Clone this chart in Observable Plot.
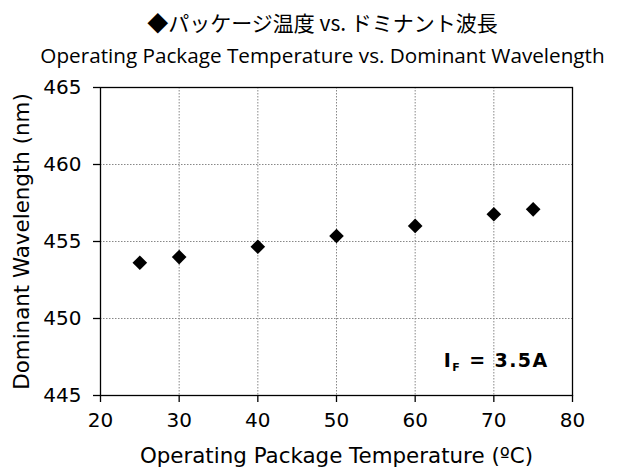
<!DOCTYPE html>
<html>
<head>
<meta charset="utf-8">
<script src="https://cdn.jsdelivr.net/npm/d3@7"></script>
<script src="https://cdn.jsdelivr.net/npm/@observablehq/plot@0.6"></script>
<style>
  html, body { margin: 0; padding: 0; background: #fff; }
  #wrap { position: relative; width: 619px; height: 470px; overflow: hidden; }
  #header { position: relative; width: 619px; height: 70px; }
  .t1 { position: absolute; left: 0; width: 645px; top: 9px; text-align: center;
        font-family: "Noto Sans CJK JP", sans-serif; font-size: 21px; line-height: 26px; color: #000; }
  .t2 { position: absolute; left: 0; width: 645px; top: 42px; text-align: center;
        font-family: "Open Sans", sans-serif; font-size: 20.7px; line-height: 26px; color: #000; }
  #chart svg text { font-family: "DejaVu Sans", sans-serif; }
  #chart svg g[aria-label="x-axis label"] text, #chart svg g[aria-label="y-axis label"] text { font-size: 21.4px; }
</style>
</head>
<body>
<div id="wrap">
  <div id="header">
    <div class="t1" id="title1"></div>
    <div class="t2" id="title2"></div>
  </div>
  <div id="chart"></div>
</div>
<script>
const titleText = "◆パッケージ温度 vs. ドミナント波長";
const subtitleText = "Operating Package Temperature vs. Dominant Wavelength";
const xLabel = "Operating Package Temperature (ºC)";
const yLabel = "Dominant Wavelength (nm)";

const temperatures = [25, 30, 40, 50, 60, 70, 75];
const wavelengths = [453.62, 453.99, 454.66, 455.36, 456.01, 456.77, 457.09];

const xTicks = [20, 30, 40, 50, 60, 70, 80];
const yTicks = [445, 450, 455, 460, 465];
const xGrid = [30, 40, 50, 60, 70];
const yGrid = [450, 455, 460];

const annotation = "IF = 3.5A";

document.getElementById("title1").textContent = titleText;
document.getElementById("title2").textContent = subtitleText;

const data = temperatures.map((t, i) => ({t, w: wavelengths[i]}));

const chart = Plot.plot({
  width: 619,
  height: 400,
  marginTop: 17,
  marginBottom: 75,
  marginLeft: 100,
  marginRight: 47,
  style: {fontFamily: "'DejaVu Sans', sans-serif", fontSize: "20px", color: "#000", background: "#fff"},
  x: {domain: [20, 80]},
  y: {domain: [445, 465]},
  marks: [
    Plot.ruleX(xGrid, {stroke: "#888", strokeWidth: 1, strokeDasharray: "1.5,1.5"}),
    Plot.ruleY(yGrid, {stroke: "#888", strokeWidth: 1, strokeDasharray: "1.5,1.5"}),
    Plot.frame({stroke: "#000", strokeWidth: 1.3}),
    Plot.axisX({ticks: xTicks, tickSize: 7, tickPadding: 10, stroke: "#000", strokeWidth: 1.3,
      label: xLabel, labelAnchor: "center", labelOffset: 67, labelArrow: "none"}),
    Plot.axisY({ticks: yTicks, tickSize: 7, tickPadding: 12, stroke: "#000", strokeWidth: 1.3,
      label: yLabel, labelAnchor: "center", labelOffset: 87, labelArrow: "none"}),
    Plot.dot(data, {x: "t", y: "w", symbol: "diamond2", r: 6.6, fill: "#000", stroke: "none"}),
    Plot.text([annotation], {frameAnchor: "bottom-right", textAnchor: "end", lineAnchor: "middle",
      dx: -24, dy: -35, fontWeight: "bold", fontSize: 19, className: "ann"})
  ]
});

document.getElementById("chart").appendChild(chart);

// axis titles slightly larger than tick labels
d3.select(chart).selectAll('g[aria-label="x-axis label"] text, g[aria-label="y-axis label"] text')
  .attr("font-size", 21.4);

// build subscript for I_F
d3.select(chart).selectAll("g.ann text").each(function() {
  const t = d3.select(this);
  t.text(null).attr("letter-spacing", 1.4);
  t.append("tspan").text("I");
  t.append("tspan").attr("font-size", 11).attr("dy", 4).text("F");
  t.append("tspan").attr("dy", -4).text(" = 3.5A");
});
</script>
</body>
</html>
